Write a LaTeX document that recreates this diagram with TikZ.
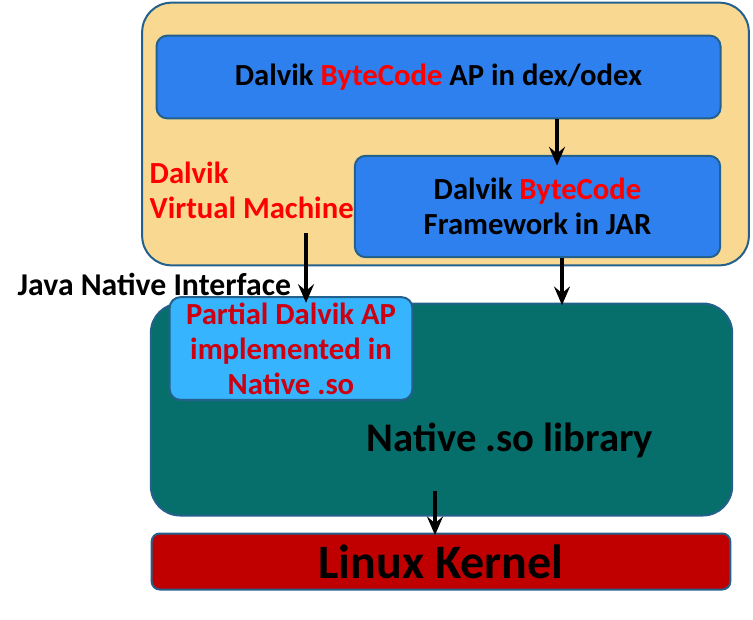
\documentclass[tikz,border=0pt]{standalone}
\usepackage{fontspec}
\setmainfont{Carlito}
\usepackage{xcolor}
\usetikzlibrary{arrows.meta, positioning, calc}

\definecolor{vmfill}{HTML}{F9D991}
\definecolor{edgeblue}{HTML}{24608C}
\definecolor{codeblue}{HTML}{2E80EE}
\definecolor{sofill}{HTML}{066F6B}
\definecolor{partfill}{HTML}{36B4FE}
\definecolor{kernfill}{HTML}{C00000}
\definecolor{darkred}{HTML}{CC0010}

\tikzset{
  box/.style={draw=edgeblue, line width=1.5pt, font=\bfseries},
  bigbox/.style={box, rounded corners=22pt},
  smallbox/.style={box, rounded corners=8pt},
  midfont/.style={font=\bfseries\fontsize{23}{26.25}\selectfont},
  arr/.style={-{Stealth[length=14pt, width=12pt, inset=5pt]}, line width=2.3pt, black}
}

\begin{document}
\begin{tikzpicture}[x=0.75pt, y=-0.75pt]
\useasboundingbox (0,0) rectangle (753,619);

% Dalvik VM (top)
\node[bigbox, fill=vmfill, minimum width=455pt, minimum height=197pt] (dvm) at (445.5,134) {};
\node[smallbox, fill=codeblue, minimum width=423pt, minimum height=62pt, midfont] (apbox) at (438.5,77) {Dalvik \textcolor{red}{ByteCode} AP in dex/odex};
\node[smallbox, fill=codeblue, minimum width=274pt, minimum height=76pt, align=center, midfont] (fwbox) at (537.5,206.5) {Dalvik \textcolor{red}{ByteCode}\\Framework in JAR};
\node[anchor=west, align=left, text=red, midfont] (vmlabel) at (145,190.5) {Dalvik\\Virtual Machine};

% native library (middle)
\node[bigbox, fill=sofill, minimum width=436pt, minimum height=159pt] (native) at (441.5,409.5) {};
\node[smallbox, fill=partfill, minimum width=182pt, minimum height=77pt, align=center, text=darkred, midfont] (partial) at (291,348.5) {Partial Dalvik AP\\implemented in\\Native .so};
\node[font=\bfseries\fontsize{30.5}{34}\selectfont] (solabel) at (510,440) {Native .so library};
\node[anchor=west, font=\bfseries\fontsize{23.8}{26}\selectfont] (jni) at (13,284) {Java Native Interface};

% kernel (bottom)
\node[smallbox, fill=kernfill, rounded corners=6pt, minimum width=434pt, minimum height=42pt, font=\bfseries\fontsize{36}{40}\selectfont] (kernel) at (441,561.5) {Linux Kernel};

% arrows
\coordinate (c1) at (557,0);
\coordinate (c2) at (562,0);
\coordinate (jnitop) at (306,233);
\coordinate (sobot) at (435,491);
\draw[arr, shorten >=-8pt] (apbox.south -| c1) -- (fwbox.north -| c1);
\draw[arr, shorten >=-5pt] (jnitop) -- (partial.north -| jnitop);
\draw[arr, shorten >=-2pt] (fwbox.south -| c2) -- (native.north -| c2);
\draw[arr, shorten >=-2pt] (sobot) -- (kernel.north -| sobot);
\end{tikzpicture}
\end{document}
